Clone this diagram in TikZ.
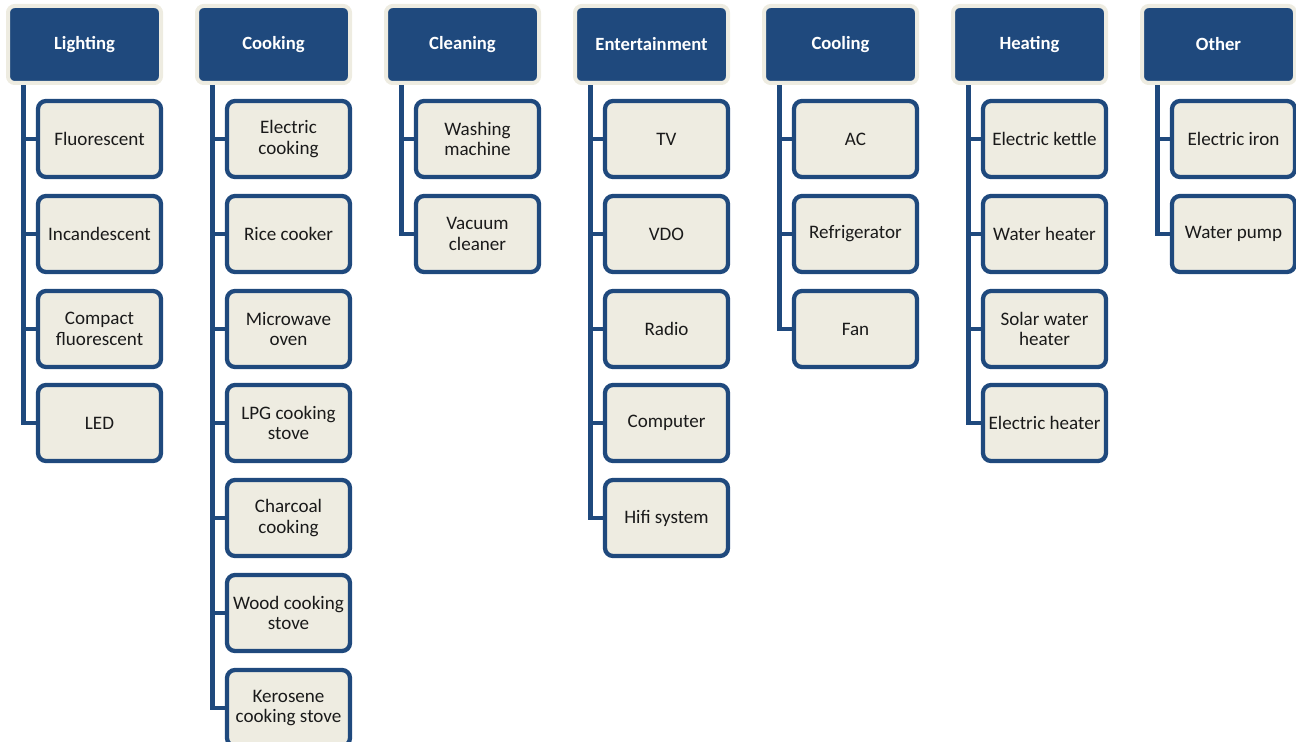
\documentclass[tikz,border=0pt]{standalone}
\usepackage{fontspec}
\setmainfont{Carlito}
\usetikzlibrary{backgrounds}
\definecolor{darkblue}{HTML}{1F497D}
\definecolor{paper}{HTML}{EEECE1}
\definecolor{ink}{HTML}{1A1A1A}
\tikzset{
  head/.style={draw=paper, fill=darkblue, line width=3pt, rounded corners=5pt,
    minimum width=114.75pt, minimum height=57.75pt, inner sep=0pt,
    text=white, font=\bfseries\fontsize{14}{16}\selectfont},
  item/.style={draw=darkblue, fill=paper, line width=3.2pt, rounded corners=6pt,
    minimum width=92.25pt, minimum height=57pt, inner sep=0pt, align=center,
    text=ink, font=\fontsize{14.3}{15.5}\selectfont},
  trunk/.style={draw=darkblue, line width=3.6pt}
}
\begin{document}
\begin{tikzpicture}[x=0.75pt,y=-0.75pt]
                    \useasboundingbox (0,0) rectangle (1296,742);

                    % headers
                    \node[head] (Li) at (84.5,44.5) {Lighting};
                    \node[head] (Ck) at (273.5,44.5) {Cooking};
                    \node[head] (Cl) at (462.5,44.5) {Cleaning};
                    \node[head] (En) at (651.5,44.5) {Entertainment};
                    \node[head] (Co) at (840.5,44.5) {Cooling};
                    \node[head] (He) at (1029.5,44.5) {Heating};
                    \node[head] (Ot) at (1218.5,44.5) {Other};

                    % lighting
                    \node[item] (Li1) at (99.5,139) {Fluorescent};
                    \node[item] (Li2) at (99.5,234) {Incandescent};
                    \node[item] (Li3) at (99.5,329) {Compact\\fluorescent};
                    \node[item] (Li4) at (99.5,423) {LED};

                    % cooking
                    \node[item] (Ck1) at (288.5,139) {Electric\\cooking};
                    \node[item] (Ck2) at (288.5,234) {Rice cooker};
                    \node[item] (Ck3) at (288.5,329) {Microwave\\oven};
                    \node[item] (Ck4) at (288.5,423) {LPG cooking\\stove};
                    \node[item] (Ck5) at (288.5,518) {Charcoal\\cooking};
                    \node[item] (Ck6) at (288.5,613) {Wood cooking\\stove};
                    \node[item] (Ck7) at (288.5,708) {Kerosene\\cooking stove};

                    % cleaning
                    \node[item] (Cl1) at (477.5,139) {Washing\\machine};
                    \node[item] (Cl2) at (477.5,234) {Vacuum\\cleaner};

                    % entertainment
                    \node[item] (En1) at (666.5,139) {TV};
                    \node[item] (En2) at (666.5,234) {VDO};
                    \node[item] (En3) at (666.5,329) {Radio};
                    \node[item] (En4) at (666.5,423) {Computer};
                    \node[item] (En5) at (666.5,518) {Hifi system};

                    % cooling
                    \node[item] (Co1) at (855.5,139) {AC};
                    \node[item] (Co2) at (855.5,234) {Refrigerator};
                    \node[item] (Co3) at (855.5,329) {Fan};

                    % heating
                    \node[item] (He1) at (1044.5,139) {Electric kettle};
                    \node[item] (He2) at (1044.5,234) {Water heater};
                    \node[item] (He3) at (1044.5,329) {Solar water\\heater};
                    \node[item] (He4) at (1044.5,423) {Electric heater};

                    % other
                    \node[item] (Ot1) at (1233.5,139) {Electric iron};
                    \node[item] (Ot2) at (1233.5,234) {Water pump};

                    \begin{scope}[on background layer]
                    \draw[trunk] ([xshift=13pt]Li.south west) |- (Li1.west);
                    \draw[trunk] ([xshift=13pt]Li.south west) |- (Li2.west);
                    \draw[trunk] ([xshift=13pt]Li.south west) |- (Li3.west);
                    \draw[trunk] ([xshift=13pt]Li.south west) |- (Li4.west);

                    \draw[trunk] ([xshift=13pt]Ck.south west) |- (Ck1.west);
                    \draw[trunk] ([xshift=13pt]Ck.south west) |- (Ck2.west);
                    \draw[trunk] ([xshift=13pt]Ck.south west) |- (Ck3.west);
                    \draw[trunk] ([xshift=13pt]Ck.south west) |- (Ck4.west);
                    \draw[trunk] ([xshift=13pt]Ck.south west) |- (Ck5.west);
                    \draw[trunk] ([xshift=13pt]Ck.south west) |- (Ck6.west);
                    \draw[trunk] ([xshift=13pt]Ck.south west) |- (Ck7.west);

                    \draw[trunk] ([xshift=13pt]Cl.south west) |- (Cl1.west);
                    \draw[trunk] ([xshift=13pt]Cl.south west) |- (Cl2.west);

                    \draw[trunk] ([xshift=13pt]En.south west) |- (En1.west);
                    \draw[trunk] ([xshift=13pt]En.south west) |- (En2.west);
                    \draw[trunk] ([xshift=13pt]En.south west) |- (En3.west);
                    \draw[trunk] ([xshift=13pt]En.south west) |- (En4.west);
                    \draw[trunk] ([xshift=13pt]En.south west) |- (En5.west);

                    \draw[trunk] ([xshift=13pt]Co.south west) |- (Co1.west);
                    \draw[trunk] ([xshift=13pt]Co.south west) |- (Co2.west);
                    \draw[trunk] ([xshift=13pt]Co.south west) |- (Co3.west);

                    \draw[trunk] ([xshift=13pt]He.south west) |- (He1.west);
                    \draw[trunk] ([xshift=13pt]He.south west) |- (He2.west);
                    \draw[trunk] ([xshift=13pt]He.south west) |- (He3.west);
                    \draw[trunk] ([xshift=13pt]He.south west) |- (He4.west);

                    \draw[trunk] ([xshift=13pt]Ot.south west) |- (Ot1.west);
                    \draw[trunk] ([xshift=13pt]Ot.south west) |- (Ot2.west);
                    \end{scope}
\end{tikzpicture}
\end{document}
